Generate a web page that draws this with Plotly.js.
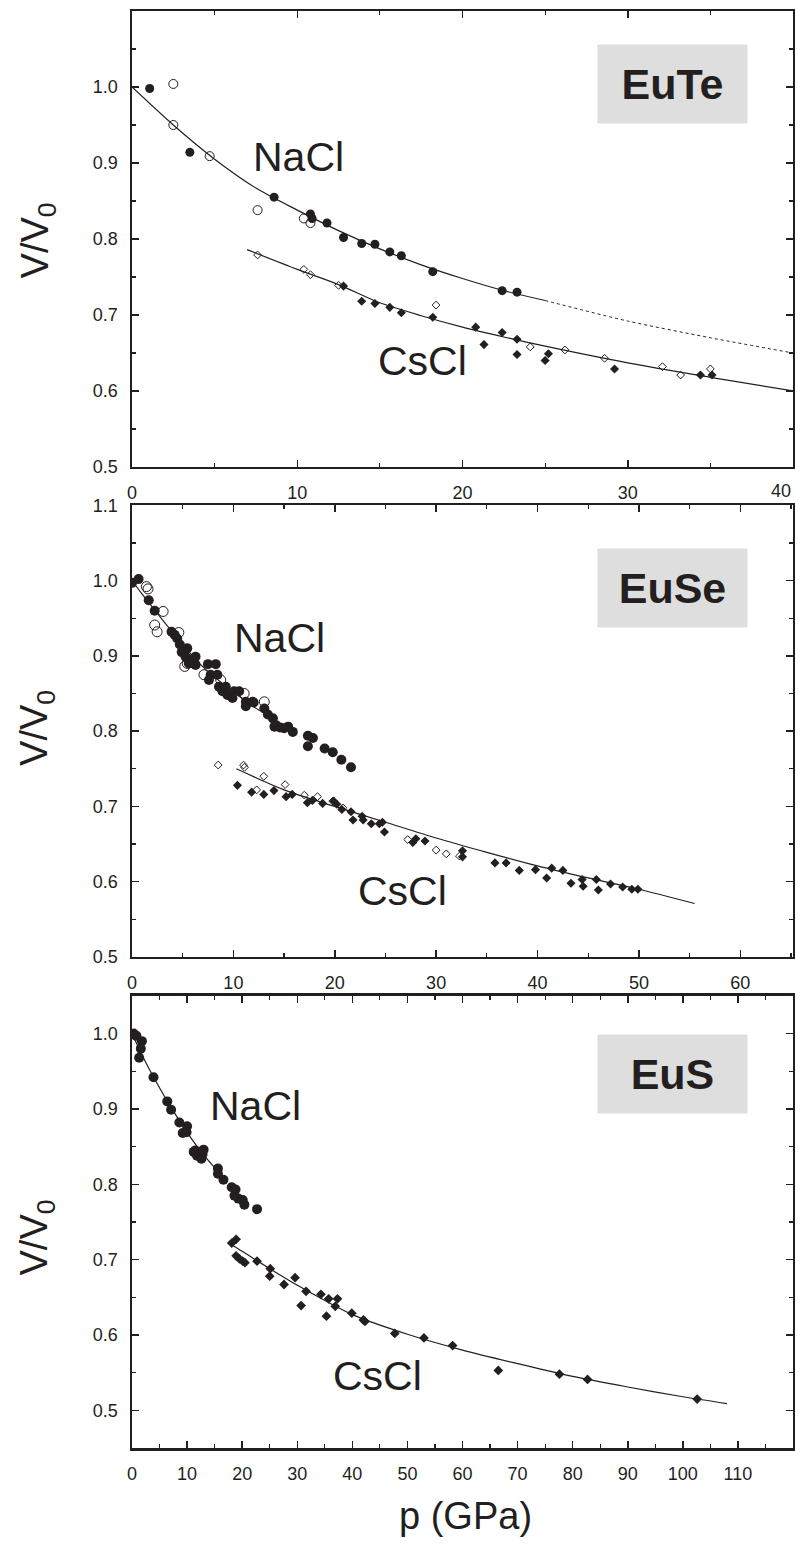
<!DOCTYPE html>
<html><head><meta charset="utf-8">
<script src="https://cdn.plot.ly/plotly-3.0.1.min.js"></script>
<style>html,body{margin:0;padding:0;background:#fff;}</style>
</head><body>
<div id="chart" style="width:795px;height:1544px;"></div>
<script>
// ---------- EuTe ----------
const euteNaClFilledP = [1.07, 3.5, 8.6, 10.8, 10.9, 11.8, 12.8, 13.9, 14.7, 15.6, 16.3, 18.2, 22.4, 23.3];
const euteNaClFilledV = [0.998, 0.914, 0.855, 0.833, 0.827, 0.821, 0.802, 0.794, 0.793, 0.783, 0.778, 0.757, 0.732, 0.730];
const euteNaClOpenP = [2.5, 2.5, 4.7, 7.6, 10.4, 10.8];
const euteNaClOpenV = [1.004, 0.950, 0.909, 0.838, 0.827, 0.821];
const euteCsClFilledP = [12.8, 13.9, 14.7, 15.6, 16.3, 18.2, 20.8, 21.3, 22.4, 23.3, 23.3, 25.0, 25.2, 29.2, 34.4, 35.1];
const euteCsClFilledV = [0.738, 0.718, 0.715, 0.710, 0.703, 0.697, 0.684, 0.661, 0.677, 0.668, 0.648, 0.640, 0.649, 0.629, 0.621, 0.621];
const euteCsClOpenP = [7.6, 10.4, 10.8, 12.5, 18.4, 24.1, 26.2, 28.6, 32.1, 33.2, 35.0];
const euteCsClOpenV = [0.779, 0.760, 0.753, 0.739, 0.713, 0.658, 0.654, 0.643, 0.632, 0.621, 0.629];
const euteNaClFitP = [0, 2.5, 5, 7.5, 10, 12.5, 15, 17.5, 20, 22.5, 25];
const euteNaClFitV = [1.0, 0.950, 0.905, 0.867, 0.838, 0.811, 0.787, 0.766, 0.748, 0.732, 0.719];
const euteNaClExtP = [25, 30, 35, 40];
const euteNaClExtV = [0.719, 0.692, 0.670, 0.650];
const euteCsClFitP = [6.96, 10, 12.5, 15, 17.5, 20, 22.5, 25, 30, 35, 40];
const euteCsClFitV = [0.786, 0.760, 0.740, 0.716, 0.699, 0.684, 0.671, 0.659, 0.637, 0.618, 0.600];

// ---------- EuSe ----------
const euseNaClFilledP = [0, 0.65, 1.65, 2.24, 3.9, 4.46, 4.72, 5.45, 5.28, 5.78, 6.27, 6.27, 5.61, 7.49, 8.26, 7.76, 8.42, 7.59, 8.58, 9.25, 8.92, 9.42, 10.07, 10.57, 9.91, 11.23, 11.23, 11.9, 13.05, 13.4, 13.9, 14.2, 14.05, 15.0, 15.4, 15.86, 17.35, 17.85, 17.35, 19.0, 19.8, 20.65, 21.6, 4.2, 4.9, 6.0, 12.0, 14.6];
const euseNaClFilledV = [0.997, 1.002, 0.974, 0.960, 0.932, 0.923, 0.915, 0.910, 0.899, 0.895, 0.899, 0.888, 0.890, 0.889, 0.889, 0.875, 0.875, 0.868, 0.859, 0.859, 0.853, 0.848, 0.853, 0.853, 0.844, 0.839, 0.833, 0.839, 0.830, 0.822, 0.817, 0.808, 0.806, 0.804, 0.806, 0.799, 0.794, 0.791, 0.780, 0.777, 0.772, 0.762, 0.752, 0.928, 0.905, 0.893, 0.838, 0.805];
const euseNaClOpenP = [1.42, 1.58, 3.07, 2.24, 2.48, 4.62, 5.45, 5.2, 7.1, 8.75, 11.06, 13.05, 6.0];
const euseNaClOpenV = [0.992, 0.989, 0.959, 0.941, 0.932, 0.931, 0.890, 0.886, 0.875, 0.868, 0.850, 0.839, 0.891];
const euseCsClFilledP = [10.4, 11.8, 13.0, 14.0, 15.2, 15.8, 17.3, 17.8, 18.8, 19.9, 20.2, 20.7, 21.6, 21.8, 22.7, 22.8, 23.6, 24.4, 24.7, 24.9, 27.7, 28.0, 28.9, 32.6, 32.6, 35.8, 36.9, 38.2, 39.8, 40.9, 41.4, 42.5, 43.3, 44.4, 44.5, 45.8, 46.0, 47.2, 48.4, 49.3, 49.9];
const euseCsClFilledV = [0.728, 0.719, 0.716, 0.721, 0.713, 0.716, 0.705, 0.708, 0.704, 0.707, 0.703, 0.696, 0.693, 0.682, 0.687, 0.682, 0.677, 0.677, 0.679, 0.666, 0.652, 0.657, 0.654, 0.641, 0.633, 0.625, 0.625, 0.615, 0.616, 0.605, 0.618, 0.615, 0.598, 0.603, 0.594, 0.603, 0.589, 0.597, 0.593, 0.590, 0.590];
const euseCsClOpenP = [8.5, 11.0, 11.1, 13.0, 12.3, 15.1, 17.0, 18.3, 19.8, 20.8, 27.2, 30.0, 31.0, 32.3];
const euseCsClOpenV = [0.755, 0.755, 0.752, 0.740, 0.722, 0.729, 0.715, 0.713, 0.707, 0.698, 0.656, 0.642, 0.637, 0.634];
const euseNaClFitP = [0, 1, 3.3, 5, 7.1, 10.4, 12.6];
const euseNaClFitV = [1.0, 0.982, 0.943, 0.915, 0.884, 0.848, 0.827];
const euseCsClFitP = [10.3, 15, 20, 25, 30, 35, 40, 45, 50, 55.5];
const euseCsClFitV = [0.750, 0.722, 0.700, 0.679, 0.658, 0.639, 0.621, 0.605, 0.590, 0.571];

// ---------- EuS ----------
const eusNaClP = [0, 0.8, 1.8, 1.6, 1.3, 3.9, 6.4, 7.1, 8.6, 9.2, 10.0, 9.9, 11.2, 11.8, 13.0, 12.6, 15.6, 15.6, 16.6, 18.1, 18.8, 18.6, 19.3, 20.1, 20.4, 22.7, 0.3, 11.5, 12.8];
const eusNaClV = [0.999, 0.997, 0.990, 0.980, 0.968, 0.942, 0.910, 0.899, 0.882, 0.868, 0.877, 0.869, 0.843, 0.838, 0.846, 0.834, 0.821, 0.814, 0.806, 0.796, 0.793, 0.785, 0.781, 0.779, 0.773, 0.767, 1.0, 0.845, 0.840];
const eusCsClP = [18.1, 18.9, 18.9, 20.1, 22.7, 25.1, 25.0, 27.6, 29.6, 30.7, 31.6, 34.3, 35.3, 35.7, 36.9, 37.3, 39.9, 42.0, 47.7, 53.0, 58.2, 66.5, 77.6, 82.7, 102.6, 19.5, 20.5, 42.3];
const eusCsClV = [0.722, 0.727, 0.705, 0.698, 0.698, 0.688, 0.678, 0.667, 0.676, 0.639, 0.658, 0.654, 0.625, 0.648, 0.638, 0.648, 0.629, 0.620, 0.602, 0.596, 0.586, 0.553, 0.548, 0.541, 0.515, 0.701, 0.696, 0.618];
const eusNaClFitP = [0, 2, 4, 7, 10, 13, 17];
const eusNaClFitV = [1.0, 0.969, 0.941, 0.903, 0.869, 0.839, 0.806];
const eusCsClFitP = [18.2, 20, 25, 30, 40, 50, 60, 70, 80, 90, 100, 108];
const eusCsClFitV = [0.719, 0.711, 0.688, 0.666, 0.627, 0.601, 0.580, 0.562, 0.545, 0.531, 0.518, 0.509];

// ---------- ticks & labels ----------
const xTicks1 = [0, 10, 20, 30];
const xEdgeLabel1 = 40;          // last tick label of the top panel, sits at the right edge
const xTicks2 = [0, 10, 20, 30, 40, 50, 60];
const xTicks3 = [0, 10, 20, 30, 40, 50, 60, 70, 80, 90, 100, 110];
const yTicks1 = [0.5, 0.6, 0.7, 0.8, 0.9, 1.0];
const yTicks2 = [0.5, 0.6, 0.7, 0.8, 0.9, 1.0, 1.1];
const yTicks3 = [0.5, 0.6, 0.7, 0.8, 0.9, 1.0];
const compounds = ['EuTe', 'EuSe', 'EuS'];
const phaseLabels = ['NaCl', 'CsCl'];
const yTitle = 'V/V<sub>0</sub>';
const xTitle = 'p (GPa)';

const INK = '#231f20';
const FONT = 'Liberation Sans, Arial, Helvetica, sans-serif';

function fit(x, y, xa, ya, dash) {
  return {x: x, y: y, xaxis: xa, yaxis: ya, mode: 'lines', type: 'scatter',
    line: {color: INK, width: dash ? 1 : 1.2, dash: dash || 'solid', shape: 'spline', smoothing: 0.8},
    hoverinfo: 'skip', showlegend: false};
}
function mk(x, y, xa, ya, symbol, size, open) {
  return {x: x, y: y, xaxis: xa, yaxis: ya, mode: 'markers', type: 'scatter', showlegend: false,
    marker: {symbol: symbol, size: size, color: INK, line: {color: INK, width: open ? 1 : 0}}};
}

const traces = [
  fit(euteNaClFitP, euteNaClFitV, 'x', 'y'),
  fit(euteNaClExtP, euteNaClExtV, 'x', 'y', 'dot'),
  fit(euteCsClFitP, euteCsClFitV, 'x', 'y'),
  mk(euteNaClOpenP, euteNaClOpenV, 'x', 'y', 'circle-open', 9, true),
  mk(euteNaClFilledP, euteNaClFilledV, 'x', 'y', 'circle', 9),
  mk(euteCsClOpenP, euteCsClOpenV, 'x', 'y', 'diamond-open', 6, true),
  mk(euteCsClFilledP, euteCsClFilledV, 'x', 'y', 'diamond', 7),

  fit(euseNaClFitP, euseNaClFitV, 'x2', 'y2'),
  fit(euseCsClFitP, euseCsClFitV, 'x2', 'y2'),
  mk(euseNaClOpenP, euseNaClOpenV, 'x2', 'y2', 'circle-open', 10, true),
  mk(euseNaClFilledP, euseNaClFilledV, 'x2', 'y2', 'circle', 10),
  mk(euseCsClOpenP, euseCsClOpenV, 'x2', 'y2', 'diamond-open', 6, true),
  mk(euseCsClFilledP, euseCsClFilledV, 'x2', 'y2', 'diamond', 7),

  fit(eusNaClFitP, eusNaClFitV, 'x3', 'y3'),
  fit(eusCsClFitP, eusCsClFitV, 'x3', 'y3'),
  mk(eusNaClP, eusNaClV, 'x3', 'y3', 'circle', 10),
  mk(eusCsClP, eusCsClV, 'x3', 'y3', 'diamond', 7.5)
];

function axis(extra) {
  return Object.assign({
    showline: true, linecolor: INK, linewidth: 2.5, mirror: 'ticks',
    ticks: 'inside', ticklen: 7, tickwidth: 1.5, tickcolor: INK,
    showgrid: false, zeroline: false, fixedrange: true,
    tickfont: {family: FONT, size: 18, color: INK},
    ticklabelstandoff: 8, tickmode: 'array'
  }, extra);
}
const xMinor = {ticks: 'inside', ticklen: 4, tickwidth: 1.2, tickcolor: INK, tickmode: 'linear', tick0: 0, dtick: 5, showgrid: false};
const yMinor = {ticks: 'inside', ticklen: 4, tickwidth: 1.2, tickcolor: INK, tickmode: 'linear', tick0: 0, dtick: 0.05, showgrid: false};

function label(text, x, y, xr, yr) {
  return {text: text, x: x, y: y, xref: xr, yref: yr, showarrow: false, xanchor: 'center', yanchor: 'middle',
    font: {family: FONT, size: 41, color: INK}};
}
function box(text, xr, yr, yc) {
  return {text: '<b>' + text + '</b>', x: 0.8175, y: yc, xref: xr + ' domain', yref: yr + ' domain',
    showarrow: false, xanchor: 'center', yanchor: 'middle', bgcolor: '#dedede', width: 149, height: 78,
    borderpad: 0, font: {family: FONT, size: 43, color: INK}};
}
function ytitle(y) {
  return {text: yTitle, x: -0.143, y: y, xref: 'paper', yref: 'paper', textangle: -90, showarrow: false,
    xanchor: 'center', yanchor: 'middle', font: {family: FONT, size: 38, color: INK}};
}

const layout = {
  width: 795, height: 1544, paper_bgcolor: '#fff', plot_bgcolor: '#fff',
  margin: {l: 132, r: 2, t: 11, b: 96}, showlegend: false,
  xaxis: axis({range: [0, 40], tickvals: xTicks1, anchor: 'y', minor: xMinor}),
  yaxis: axis({range: [0.5, 1.1], tickvals: yTicks1, tickformat: '.1f', domain: [0.6827, 1], anchor: 'x', minor: yMinor}),
  xaxis2: axis({range: [0, 65.2], tickvals: xTicks2, anchor: 'y2', minor: xMinor}),
  yaxis2: axis({range: [0.5, 1.1], tickvals: yTicks2, tickformat: '.1f', domain: [0.3417, 0.656], anchor: 'x2', minor: yMinor}),
  xaxis3: axis({range: [0, 120], tickvals: xTicks3, anchor: 'y3', minor: xMinor}),
  yaxis3: axis({range: [0.45, 1.05], tickvals: yTicks3, tickformat: '.1f', domain: [0, 0.3146], anchor: 'x3', minor: yMinor}),
  annotations: [
    box(compounds[0], 'x', 'y', 0.839),
    box(compounds[1], 'x2', 'y2', 0.816),
    box(compounds[2], 'x3', 'y3', 0.828),
    label(phaseLabels[0], 10.05, 0.908, 'x', 'y'),
    label(phaseLabels[1], 17.6, 0.639, 'x', 'y'),
    label(phaseLabels[0], 14.5, 0.924, 'x2', 'y2'),
    label(phaseLabels[1], 26.7, 0.588, 'x2', 'y2'),
    label(phaseLabels[0], 22.4, 0.904, 'x3', 'y3'),
    label(phaseLabels[1], 44.6, 0.545, 'x3', 'y3'),
    {text: String(xEdgeLabel1), x: xEdgeLabel1, y: 0, xref: 'x', yref: 'y domain', xanchor: 'right', yanchor: 'top',
      yshift: -12, showarrow: false, font: {family: FONT, size: 18, color: INK}},
    ytitle(0.8407), ytitle(0.5014), ytitle(0.1468),
    {text: xTitle, x: 0.505, y: -0.047, xref: 'paper', yref: 'paper', showarrow: false,
      xanchor: 'center', yanchor: 'middle', font: {family: FONT, size: 38, color: INK}}
  ]
};

Plotly.newPlot('chart', traces, layout, {displayModeBar: false, staticPlot: true});
</script>
</body></html>
